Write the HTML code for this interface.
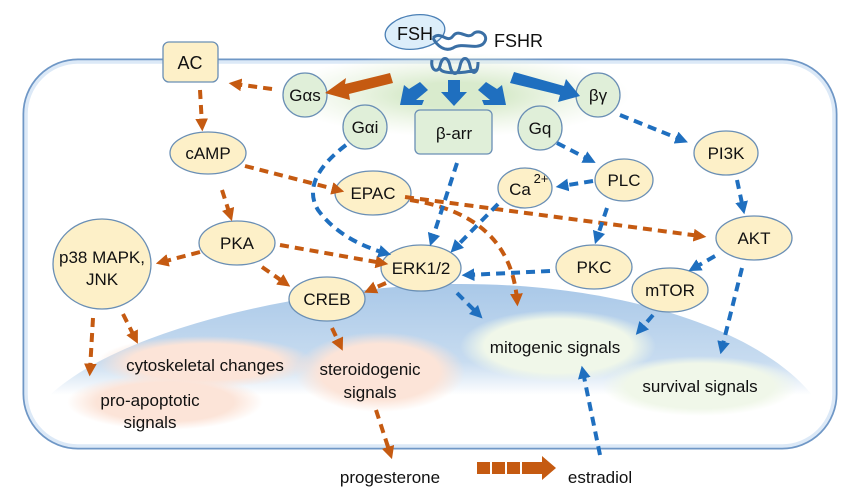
<!DOCTYPE html>
<html><head><style>body{margin:0;background:#fff}svg{display:block}text{font-family:"Liberation Sans",sans-serif;fill:#111}</style></head>
<body>
<svg width="865" height="496" viewBox="0 0 865 496" xmlns="http://www.w3.org/2000/svg">
<defs>
<marker id="ao" viewBox="0 0 10 10" refX="5" refY="5" markerWidth="3.2" markerHeight="3.2" orient="auto"><path d="M0,0L10,5L0,10z" fill="#c55a11"/></marker>
<marker id="ab" viewBox="0 0 10 10" refX="5" refY="5" markerWidth="3.2" markerHeight="3.2" orient="auto"><path d="M0,0L10,5L0,10z" fill="#1f6fbf"/></marker>
<linearGradient id="nuc" x1="0" y1="0" x2="0" y2="1"><stop offset="0" stop-color="#a9c8e8"/><stop offset="0.7" stop-color="#c8dcf0"/><stop offset="1" stop-color="#fff"/></linearGradient>
<radialGradient id="pink"><stop offset="0.7" stop-color="#fce4d8"/><stop offset="1" stop-color="#fce4d8" stop-opacity="0"/></radialGradient>
<radialGradient id="grn"><stop offset="0.75" stop-color="#f0f7e9"/><stop offset="1" stop-color="#f0f7e9" stop-opacity="0"/></radialGradient>
<radialGradient id="glow"><stop offset="0.3" stop-color="#d9ebcd"/><stop offset="1" stop-color="#e6f1dc" stop-opacity="0"/></radialGradient>
</defs>
<rect x="26" y="62" width="808" height="384" rx="52" fill="none" stroke="#6f97c6" stroke-width="7"/>
<rect x="26" y="62" width="808" height="384" rx="52" fill="#fff" stroke="#dce9f7" stroke-width="3.5"/>
<path d="M50,395 C120,330 300,288 450,284 C620,282 760,330 812,395 Z" fill="url(#nuc)"/>
<ellipse cx="380" cy="372" rx="85" ry="40" fill="url(#pink)"/>
<ellipse cx="205" cy="362" rx="108" ry="26" fill="url(#pink)"/>
<ellipse cx="165" cy="402" rx="98" ry="28" fill="url(#pink)"/>
<ellipse cx="558" cy="346" rx="98" ry="36" fill="url(#grn)"/>
<ellipse cx="700" cy="386" rx="98" ry="30" fill="url(#grn)"/>
<ellipse cx="455" cy="95" rx="175" ry="42" fill="url(#glow)"/>
<ellipse cx="415" cy="32" rx="30" ry="17" fill="#ddeefa" stroke="#4a7fb5" stroke-width="1.3" transform="rotate(-8 415 32)"/>
<text x="397" y="40" font-size="18">FSH</text>
<text x="494" y="47" font-size="18">FSHR</text>
<g fill="none" stroke="#3a6fa5" stroke-width="3">
<path d="M433,38 c8,-8 14,6 20,-2 c6,-8 14,4 20,-2 c6,-6 18,2 10,10 c-8,6 -20,-2 -30,4 c-8,4 -16,-2 -20,-10"/>
<path d="M432,60 c-2,10 6,14 8,6 c2,-10 8,-10 10,0 c2,10 8,10 10,0 c2,-10 8,-10 10,0 c2,10 8,8 8,-4 M440,68 c0,6 20,6 36,2"/>
</g>
<rect x="163" y="42" width="55" height="40" rx="6" fill="#fdf0c8" stroke="#6a8fb5" stroke-width="1.3"/>
<text x="190" y="69" font-size="18" text-anchor="middle">AC</text>
<g fill="#e0efd9" stroke="#6a8fb5" stroke-width="1.3">
<circle cx="305" cy="95" r="22"/><circle cx="365" cy="127" r="22"/><circle cx="540" cy="128" r="22"/><circle cx="598" cy="95" r="22"/>
<rect x="415" y="110" width="77" height="44" rx="5"/>
</g>
<g font-size="17" text-anchor="middle">
<text x="305" y="101">Gαs</text><text x="365" y="133">Gαi</text><text x="540" y="134">Gq</text><text x="598" y="101">βγ</text><text x="454" y="139">β-arr</text>
</g>
<path d="M390,73 L345,84 L346,78 L325,93 L350,100 L349,94 L393,83 Z" fill="#c55a11"/>
<g fill="#1f6fbf">
<path d="M420,82 l8,8 -12,10 h8 l-2,5 -22,0 4,-20 5,4 z"/>
<path d="M448,80 h12 v12 h7 l-13,14 -13,-14 h7z"/>
<path d="M486,82 l-8,8 12,10 h-8 l2,5 22,0 -4,-20 -5,4 z"/>
<path d="M514,72 l50,14 2,-7 14,17 -22,6 2,-7 -50,-12z"/>
</g>
<g fill="#fdf0c8" stroke="#6a8fb5" stroke-width="1.3">
<ellipse cx="208" cy="153" rx="38" ry="21"/>
<ellipse cx="373" cy="193" rx="38" ry="22"/>
<ellipse cx="525" cy="188" rx="27" ry="20"/>
<ellipse cx="624" cy="180" rx="29" ry="21"/>
<ellipse cx="726" cy="153" rx="32" ry="22"/>
<ellipse cx="754" cy="238" rx="38" ry="22"/>
<ellipse cx="237" cy="243" rx="38" ry="22"/>
<ellipse cx="102" cy="264" rx="49" ry="45"/>
<ellipse cx="421" cy="268" rx="40" ry="23"/>
<ellipse cx="327" cy="299" rx="38" ry="22"/>
<ellipse cx="594" cy="267" rx="38" ry="22"/>
<ellipse cx="670" cy="290" rx="38" ry="22"/>
</g>
<g font-size="17" text-anchor="middle">
<text x="208" y="159">cAMP</text><text x="373" y="199">EPAC</text>
<text x="520" y="195">Ca</text><text x="541" y="183" font-size="13">2+</text>
<text x="624" y="186">PLC</text><text x="726" y="159">PI3K</text><text x="754" y="244">AKT</text>
<text x="237" y="249">PKA</text><text x="102" y="263">p38 MAPK,</text><text x="102" y="285">JNK</text>
<text x="421" y="274">ERK1/2</text><text x="327" y="305">CREB</text><text x="594" y="273">PKC</text><text x="670" y="296">mTOR</text>
<text x="205" y="371">cytoskeletal changes</text>
<text x="150" y="406">pro-apoptotic</text><text x="150" y="428">signals</text>
<text x="370" y="375">steroidogenic</text><text x="370" y="398">signals</text>
<text x="555" y="353">mitogenic signals</text>
<text x="700" y="392">survival signals</text>
<text x="390" y="483">progesterone</text><text x="600" y="483">estradiol</text>
</g>
<g fill="#c55a11"><rect x="477" y="462" width="13" height="12"/><rect x="492" y="462" width="13" height="12"/><rect x="507" y="462" width="13" height="12"/>
<path d="M522,462 h20 v-6 l14,12 -14,12 v-6 h-20z"/></g>
<g fill="none" stroke="#c55a11" stroke-width="4" stroke-dasharray="9,6" marker-end="url(#ao)">
<path d="M272,89 L235,84"/>
<path d="M200,90 L202,125"/>
<path d="M245,166 L338,190"/>
<path d="M222,190 L230,215"/>
<path d="M405,197 L700,236"/>
<path d="M410,200 Q510,215 517,300"/>
<path d="M280,245 L382,263"/>
<path d="M262,267 L285,283"/>
<path d="M200,252 L162,262"/>
<path d="M386,283 L370,290"/>
<path d="M93,318 L90,370"/>
<path d="M123,314 L135,338"/>
<path d="M332,328 L340,345"/>
<path d="M376,410 L390,453"/>
</g>
<g fill="none" stroke="#1f6fbf" stroke-width="4" stroke-dasharray="9,6" marker-end="url(#ab)">
<path d="M620,115 L682,140"/>
<path d="M557,143 L590,160"/>
<path d="M593,181 L562,186"/>
<path d="M346,145 Q300,180 318,210 Q340,240 385,253"/>
<path d="M457,163 L432,240"/>
<path d="M498,204 L455,248"/>
<path d="M607,208 L597,238"/>
<path d="M550,271 L468,275"/>
<path d="M457,293 L478,314"/>
<path d="M737,180 L743,208"/>
<path d="M715,256 L694,268"/>
<path d="M653,315 L640,330"/>
<path d="M742,268 L722,348"/>
<path d="M600,455 L583,372"/>
</g>
</svg>
</body></html>
